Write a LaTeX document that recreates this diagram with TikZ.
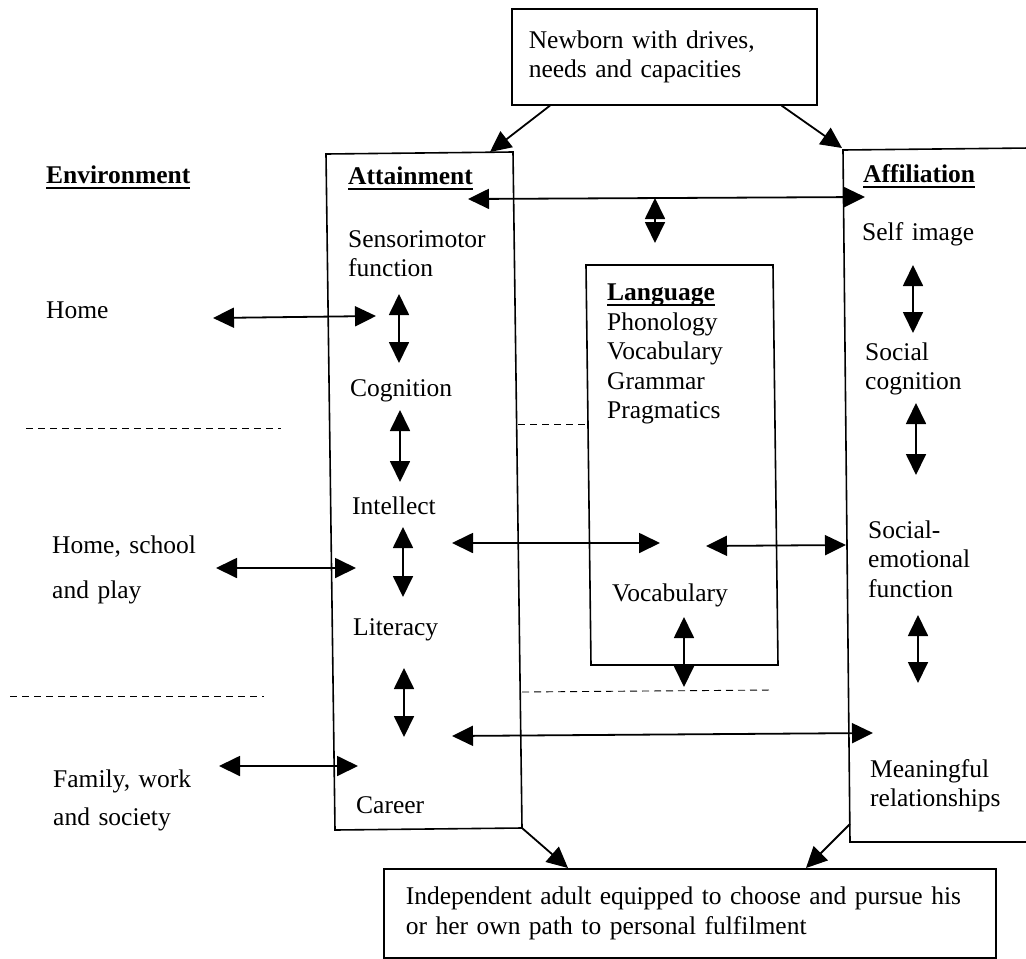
\documentclass[tikz,border=0pt]{standalone}
\usepackage{fontspec}
\setmainfont{Liberation Serif}
\usetikzlibrary{arrows.meta}
\newcommand\dfont{\fontsize{25.5}{29.5}\selectfont}
\tikzset{
  bt/.tip={Triangle[length=21pt,width=20pt]},
  T/.style={anchor=base west,inner sep=0pt,align=left,text width=#1,font=\dfont},
  T/.default=240pt,
  H/.style={anchor=base west,inner sep=0pt,font=\dfont\bfseries},
  box/.style={draw,line width=1.6pt},
  dbl/.style={bt-bt,line width=1.8pt},
  one/.style={-bt,line width=1.8pt},
  dline/.style={dash pattern=on 7pt off 5pt,line width=0.9pt},
  uline/.style={line width=1.8pt}
}
\begin{document}
\begin{tikzpicture}[x=1pt,y=-1pt]
\useasboundingbox[fill=white] (0,0) rectangle (1026,959);

% boxes
\node[box,anchor=north west,minimum width=305pt,minimum height=96pt,inner xsep=17pt,inner ysep=0pt,text width=271pt,align=left,font=\dfont] (newborn) at (511,8) {Newborn with drives,\\needs and capacities};
\node[box,anchor=north west,minimum width=612pt,minimum height=89pt,inner xsep=22pt,inner ysep=0pt,text width=568pt,align=left,font=\dfont] (adult) at (383,868) {Independent adult equipped to choose and pursue his\\or her own path to personal fulfilment};

\coordinate (a1) at (326,154); \coordinate (a2) at (513,152);
\coordinate (a3) at (522,828); \coordinate (a4) at (335,830);
\draw[box] (a1)--(a2)--(a3)--(a4)--cycle;

\coordinate (f0) at (1030,148); \coordinate (f1) at (843,150);
\coordinate (f2) at (850,842); \coordinate (f3) at (1030,842);
\draw[box] (f0)--(f1)--(f2)--(f3);

\coordinate (l1) at (586,265); \coordinate (l2) at (773,265);
\coordinate (l3) at (778,665); \coordinate (l4) at (591,665);
\draw[box] (l1)--(l2)--(l3)--(l4)--cycle;

% texts
\node[H] (env) at (46,183) {Environment};
\node[T] (home) at (46,318) {Home};
\node[T] (hsp) at (52,553) {Home, school\\[15.5pt]and play};
\node[T] (fws) at (53,787) {Family, work\\[8.5pt]and society};

\node[H] (att) at (348,184) {Attainment};
\node[T] (sens) at (348,247) {Sensorimotor\\function};
\node[T] (cog) at (350,396) {Cognition};
\node[T] (int) at (352,514) {Intellect};
\node[T] (lit) at (353,635) {Literacy};
\node[T] (car) at (356,813) {Career};

\node[H] (lang) at (607,300) {Language};
\node[T] (langlist) at (607,330) {Phonology\\Vocabulary\\Grammar\\Pragmatics};
\node[T] (voc) at (612,601) {Vocabulary};

\node[H] (aff) at (863,182) {Affiliation};
\node[T] (self) at (862,240) {Self image};
\node[T] (soc) at (865,360) {Social\\cognition};
\node[T] (semo) at (868,538) {Social-\\emotional\\function};
\node[T] (mean) at (870,777) {Meaningful\\relationships};

% underlines
\foreach \n in {env,att,lang,aff}
  \draw[uline] ([yshift=-5pt]\n.base west) -- ([yshift=-5pt]\n.base east);

% dashed separators
\coordinate (d1a) at (26,428); \coordinate (d1b) at (281,428);
\coordinate (d2a) at (10,696); \coordinate (d2b) at (264,696);
\coordinate (d3a) at (518,424); \coordinate (d3b) at (588,424);
\coordinate (d4a) at (522,692); \coordinate (d4b) at (773,690);
\draw[dline] (d1a) -- (d1b);
\draw[dline] (d2a) -- (d2b);
\draw[dline] (d3a) -- (d3b);
\draw[dline] (d4a) -- (d4b);

% arrows from newborn / to adult
\coordinate (attIn) at (490,152);
\coordinate (affIn) at (842,148);
\draw[one] ([xshift=39pt]newborn.south west) -- (attIn);
\draw[one] ([xshift=-36pt]newborn.south east) -- (affIn);
\draw[one] (a3) -- ([xshift=185pt]adult.north west);
\coordinate (affOut) at (850,824);
\draw[one] (affOut) -- ([xshift=423pt]adult.north west);

% horizontal double arrows
\coordinate (t1) at (468,199); \coordinate (t2) at (865,197);
\draw[dbl] (t1) -- (t2);
\coordinate (v1) at (655,198); \coordinate (v2) at (655,243);
\draw[dbl] (v1) -- (v2);

\coordinate (h1) at (213,318); \coordinate (h2) at (376,316);
\draw[dbl] (h1) -- (h2);
\coordinate (s1) at (216,568); \coordinate (s2) at (356,568);
\draw[dbl] (s1) -- (s2);
\coordinate (w1) at (219,766); \coordinate (w2) at (358,766);
\draw[dbl] (w1) -- (w2);

\coordinate (m1) at (452,543); \coordinate (m2) at (660,543);
\draw[dbl] (m1) -- (m2);
\coordinate (m3) at (706,546); \coordinate (m4) at (846,545);
\draw[dbl] (m3) -- (m4);
\coordinate (b1) at (452,736); \coordinate (b2) at (873,733);
\draw[dbl] (b1) -- (b2);

% vertical double arrows
\coordinate (va1) at (399,294); \coordinate (va2) at (399,363);
\draw[dbl] (va1) -- (va2);
\coordinate (vb1) at (400,410); \coordinate (vb2) at (400,482);
\draw[dbl] (vb1) -- (vb2);
\coordinate (vc1) at (403,527); \coordinate (vc2) at (403,597);
\draw[dbl] (vc1) -- (vc2);
\coordinate (vd1) at (404,668); \coordinate (vd2) at (404,737);
\draw[dbl] (vd1) -- (vd2);
\coordinate (ve1) at (684,617); \coordinate (ve2) at (684,687);
\draw[dbl] (ve1) -- (ve2);
\coordinate (vf1) at (913,265); \coordinate (vf2) at (913,333);
\draw[dbl] (vf1) -- (vf2);
\coordinate (vg1) at (916,403); \coordinate (vg2) at (916,475);
\draw[dbl] (vg1) -- (vg2);
\coordinate (vh1) at (918,615); \coordinate (vh2) at (918,683);
\draw[dbl] (vh1) -- (vh2);
\end{tikzpicture}
\end{document}
